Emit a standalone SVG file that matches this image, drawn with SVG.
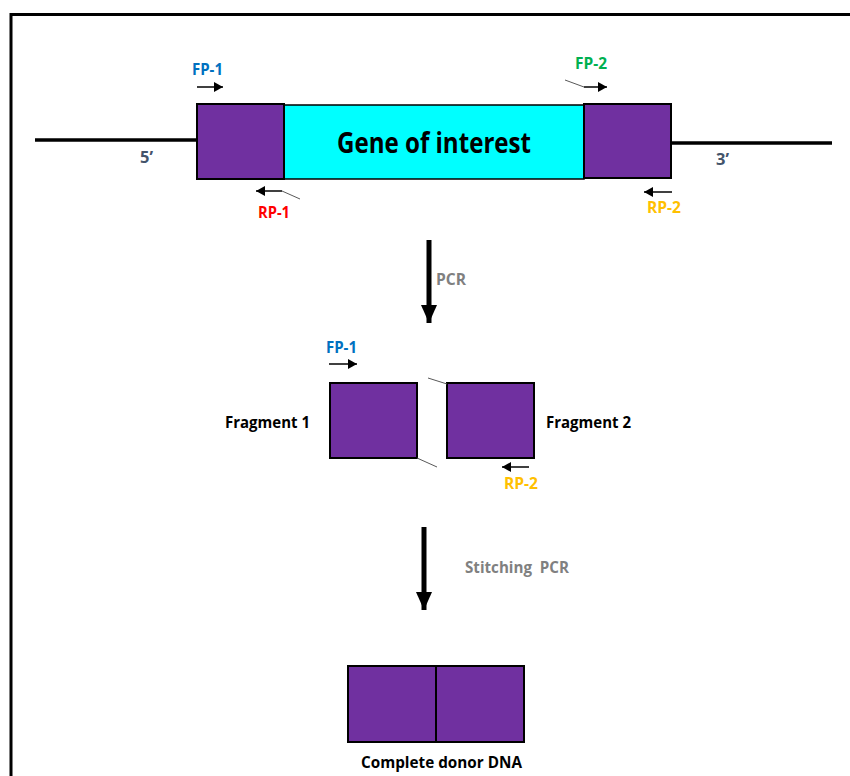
<svg xmlns="http://www.w3.org/2000/svg" width="850" height="776" viewBox="0 0 850 776">
<defs>
<marker id="ah" viewBox="0 0 10 10" refX="10" refY="5" markerWidth="9" markerHeight="10" markerUnits="userSpaceOnUse" orient="auto" preserveAspectRatio="none"><path d="M0,0 L10,5 L0,10 Z" fill="#000"/></marker>
<marker id="bigah" viewBox="0 0 10 10" refX="10" refY="5" markerWidth="18" markerHeight="16" markerUnits="userSpaceOnUse" orient="auto" preserveAspectRatio="none"><path d="M0,0 L10,5 L0,10 Z" fill="#000"/></marker>
<style>
.box{fill:#7030A0;stroke:#000;stroke-width:2}
.primer{stroke:#000;stroke-width:1.5;fill:none}
.tail{stroke:#595959;stroke-width:1;fill:none}
.lbl{font-family:"Open Sans","Liberation Sans",sans-serif;font-weight:bold}
.pl{font-family:"Open Sans","Liberation Sans",sans-serif;font-weight:bold;font-size:16.5px}
</style>
</defs>
<rect width="850" height="776" fill="#fff"/>
<path d="M11,776 V14.5 H850" fill="none" stroke="#000" stroke-width="3"/>

<g id="dna">
<line x1="35" y1="140" x2="197" y2="140" stroke="#000" stroke-width="3.5"/>
<line x1="671" y1="143" x2="832" y2="143" stroke="#000" stroke-width="3.5"/>
<text class="lbl" x="140" y="163" font-size="16.5" fill="#44546A">5’</text>
<text class="lbl" x="716" y="165" font-size="16.5" fill="#44546A">3’</text>
</g>
<g id="gene">
<rect x="284" y="105" width="300" height="74" fill="#00FFFF" stroke="#000" stroke-width="1.5"/>
<text x="434" y="153" text-anchor="middle" font-family="'Open Sans','Liberation Sans',sans-serif" font-weight="bold" font-size="29" textLength="194" lengthAdjust="spacingAndGlyphs" fill="#000">Gene of interest</text>
</g>
<g id="flank1"><rect class="box" x="197" y="104" width="87" height="75"/></g>
<g id="flank2"><rect class="box" x="584" y="104" width="87" height="74"/></g>

<g id="primers-top">
<line class="primer" x1="197" y1="87" x2="223" y2="87" marker-end="url(#ah)"/>
<text class="pl" x="192" y="75" fill="#0070C0" textLength="31" lengthAdjust="spacingAndGlyphs">FP-1</text>
<line class="tail" x1="300" y1="199" x2="282" y2="191"/>
<line class="primer" x1="282" y1="191" x2="256" y2="191" marker-end="url(#ah)"/>
<text class="pl" x="258" y="218" fill="#FF0000" textLength="32" lengthAdjust="spacingAndGlyphs">RP-1</text>
<line class="tail" x1="565" y1="80" x2="584" y2="87"/>
<line class="primer" x1="584" y1="87" x2="607" y2="87" marker-end="url(#ah)"/>
<text class="pl" x="575" y="69" fill="#00B050" textLength="32" lengthAdjust="spacingAndGlyphs">FP-2</text>
<line class="primer" x1="672" y1="192" x2="644" y2="192" marker-end="url(#ah)"/>
<text class="pl" x="647" y="213" fill="#FFC000" textLength="34" lengthAdjust="spacingAndGlyphs">RP-2</text>
</g>

<g id="connectors">
<line x1="429" y1="240" x2="429" y2="323" stroke="#000" stroke-width="5" marker-end="url(#bigah)"/>
<line x1="424" y1="527" x2="424" y2="610" stroke="#000" stroke-width="5" marker-end="url(#bigah)"/>
</g>
<text class="lbl" x="436" y="285" font-size="16.5" fill="#808080" textLength="30" lengthAdjust="spacingAndGlyphs">PCR</text>
<text class="lbl" x="465" y="573" font-size="16.5" fill="#808080" xml:space="preserve" textLength="104" lengthAdjust="spacingAndGlyphs">Stitching  PCR</text>

<g id="fragment1">
<rect class="box" x="330" y="383" width="87" height="75"/>
<text class="lbl" x="225" y="428" font-size="16.5" fill="#000" textLength="85" lengthAdjust="spacingAndGlyphs">Fragment 1</text>
<line class="primer" x1="329" y1="364" x2="357" y2="364" marker-end="url(#ah)"/>
<text class="pl" x="326" y="353" fill="#0070C0" textLength="31" lengthAdjust="spacingAndGlyphs">FP-1</text>
<line class="tail" x1="417" y1="458" x2="437" y2="467"/>
</g>
<g id="fragment2">
<rect class="box" x="447" y="383" width="87" height="75"/>
<text class="lbl" x="546" y="428" font-size="16.5" fill="#000" textLength="85" lengthAdjust="spacingAndGlyphs">Fragment 2</text>
<line class="tail" x1="428" y1="378" x2="447" y2="384"/>
<line class="primer" x1="529" y1="467" x2="502" y2="467" marker-end="url(#ah)"/>
<text class="pl" x="504" y="489" fill="#FFC000" textLength="34" lengthAdjust="spacingAndGlyphs">RP-2</text>
</g>

<g id="donor">
<rect class="box" x="348" y="666" width="88" height="76"/>
<rect class="box" x="436" y="666" width="88" height="76"/>
<text class="lbl" x="361" y="768" font-size="16.5" fill="#000" textLength="161" lengthAdjust="spacingAndGlyphs">Complete donor DNA</text>
</g>
</svg>
